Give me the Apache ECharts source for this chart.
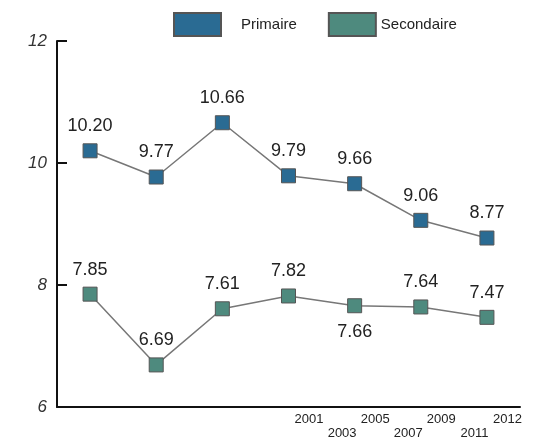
<!DOCTYPE html>
<html>
<head>
<meta charset="utf-8">
<script src="https://cdn.jsdelivr.net/npm/echarts@6/dist/echarts.min.js"></script>
<style>html,body{margin:0;padding:0;background:#fff}#c{width:533px;height:440px}</style>
</head>
<body>
<div id="c"></div>
<script>
var years = ['2001','2003','2005','2007','2009','2011','2012'];
var primaire = [10.20, 9.77, 10.66, 9.79, 9.66, 9.06, 8.77];
var secondaire = [7.85, 6.69, 7.61, 7.82, 7.66, 7.64, 7.47];
var yTicks = [6, 8, 10, 12];
var labelAxis = ['', '', '', '', '', '', ''].concat(years);

var chart = echarts.init(document.getElementById('c'));
var font = 'Liberation Sans, Arial, sans-serif';
function mkData(arr, belowIdx) {
  return arr.map(function (v, i) {
    var d = { value: v };
    if (belowIdx.indexOf(i) >= 0) d.label = { position: 'bottom', distance: 10 };
    return d;
  });
}
chart.setOption({
  animation: false,
  textStyle: { fontFamily: font },
  legend: {
    left: 168, top: 7, padding: 5,
    itemWidth: 47, itemHeight: 23, itemGap: 31,
    icon: 'rect', selectedMode: false,
    textStyle: { fontSize: 15, color: '#222', fontFamily: font },
    data: [
      { name: 'Primaire', textStyle: { padding: [0, 0, 0, 15] } },
      { name: 'Secondaire' }
    ]
  },
  grid: { left: 57, right: 13, top: 41, bottom: 32 },
  xAxis: [{
    type: 'category', data: years, boundaryGap: true,
    axisLine: { lineStyle: { color: '#111', width: 2 } },
    axisTick: { inside: true, length: 8, lineStyle: { color: '#111', width: 2 } },
    axisLabel: { show: false }
  }, {
    type: 'category', data: labelAxis, boundaryGap: true, position: 'bottom', gridIndex: 0,
    axisLine: { show: false }, axisTick: { show: false }, splitLine: { show: false },
    axisLabel: {
      interval: 0, margin: 5, fontSize: 13, color: '#222', lineHeight: 14, padding: [0, 0, 0, 8],
      formatter: function (v) {
        var i = years.indexOf(v);
        if (i < 0) return '';
        return (i % 2 === 1) ? '\n' + v : v;
      }
    }
  }],
  yAxis: {
    type: 'value', min: yTicks[0], max: yTicks[yTicks.length - 1], interval: 2,
    axisLine: { show: true, lineStyle: { color: '#111', width: 2 } },
    axisTick: { show: true, inside: true, length: 10, lineStyle: { color: '#111', width: 2 } },
    splitLine: { show: false },
    axisLabel: { fontSize: 17, fontStyle: 'italic', color: '#333', margin: 10 }
  },
  series: [{
    name: 'Primaire', type: 'line', xAxisIndex: 0,
    data: mkData(primaire, []),
    symbol: 'rect', symbolSize: 14,
    itemStyle: { color: '#2a6b93', borderColor: '#555', borderWidth: 1 },
    lineStyle: { color: '#777', width: 1.5 },
    label: { show: true, position: 'top', distance: 8, fontSize: 18, color: '#222',
      formatter: function (p) { return p.value.toFixed(2); } }
  }, {
    name: 'Secondaire', type: 'line', xAxisIndex: 0,
    data: mkData(secondaire, [4]),
    symbol: 'rect', symbolSize: 14,
    itemStyle: { color: '#4e8a7e', borderColor: '#555', borderWidth: 1 },
    lineStyle: { color: '#777', width: 1.5 },
    label: { show: true, position: 'top', distance: 8, fontSize: 18, color: '#222',
      formatter: function (p) { return p.value.toFixed(2); } }
  }]
});
</script>
</body>
</html>
